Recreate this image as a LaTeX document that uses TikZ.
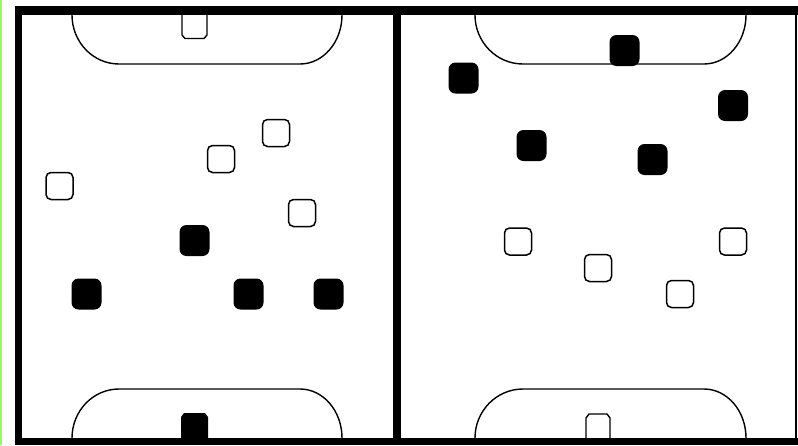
\documentclass[tikz,border=0pt]{standalone}
\definecolor{edgegreen}{RGB}{150,250,100}
\begin{document}
\begin{tikzpicture}[x=1pt,y=-1pt,
  blk/.style={rectangle,fill=black,minimum width=30pt,minimum height=31pt,inner sep=0pt,rounded corners=7pt},
  wht/.style={rectangle,draw=black,fill=white,line width=1.5pt,minimum width=27pt,minimum height=27pt,inner sep=0pt,rounded corners=5pt},
  court/.style={draw=black,line width=1.4pt},
  bar/.style={fill=black}]
\useasboundingbox (0,0) rectangle (798,445);
\fill[white] (0,0) rectangle (798,445);
\fill[edgegreen] (0,0) rectangle (1.6,445);
% frame
\fill[bar] (15,6) rectangle (798,15);
\fill[bar] (15,6) rectangle (22,445);
\fill[bar] (15,438) rectangle (798,445);
\fill[bar] (393,6) rectangle (401,445);
\draw[black,line width=1.2pt] (796,15) -- (796,438);
% goal areas
\draw[court] (72,15) arc[start angle=180,end angle=90,x radius=47,y radius=49] -- (300,64) arc[start angle=90,end angle=0,x radius=42,y radius=49];
\draw[court] (72,438) arc[start angle=180,end angle=270,x radius=47,y radius=49] -- (300,389) arc[start angle=270,end angle=360,x radius=42,y radius=49];
\draw[court] (475,15) arc[start angle=180,end angle=90,x radius=48,y radius=49] -- (704,64) arc[start angle=90,end angle=0,x radius=42,y radius=49];
\draw[court] (475,438) arc[start angle=180,end angle=270,x radius=48,y radius=49] -- (704,389) arc[start angle=270,end angle=360,x radius=42,y radius=49];
% goals
\draw[court] (182,15) -- (182,35) -- (185,38.5) -- (204,38.5) -- (207,35) -- (207,15);
\fill[black] (181,438) -- (181,417) -- (184,413) -- (205,413) -- (208,417) -- (208,438) -- cycle;
\draw[court] (586,438) -- (586,418) -- (589,414) -- (607,414) -- (610,418) -- (610,438);
% left half players
\node[wht] (w1) at (276,133) {};
\node[wht] (w2) at (221,159) {};
\node[wht] (w3) at (59.5,186) {};
\node[wht] (w4) at (302,213) {};
\node[blk] (b1) at (194.5,240.5) {};
\node[blk] (b2) at (86.5,294) {};
\node[blk] (b3) at (248.5,294) {};
\node[blk] (b4) at (328.5,294) {};
% right half players
\node[blk] (b5) at (463.5,78) {};
\node[blk] (b6) at (624.5,50.5) {};
\node[blk] (b7) at (733,105.5) {};
\node[blk] (b8) at (531.5,145.5) {};
\node[blk] (b9) at (652.5,159.5) {};
\node[wht] (w5) at (518,241.5) {};
\node[wht] (w6) at (598,268) {};
\node[wht] (w7) at (680,294) {};
\node[wht] (w8) at (733,241.5) {};
\end{tikzpicture}
\end{document}
